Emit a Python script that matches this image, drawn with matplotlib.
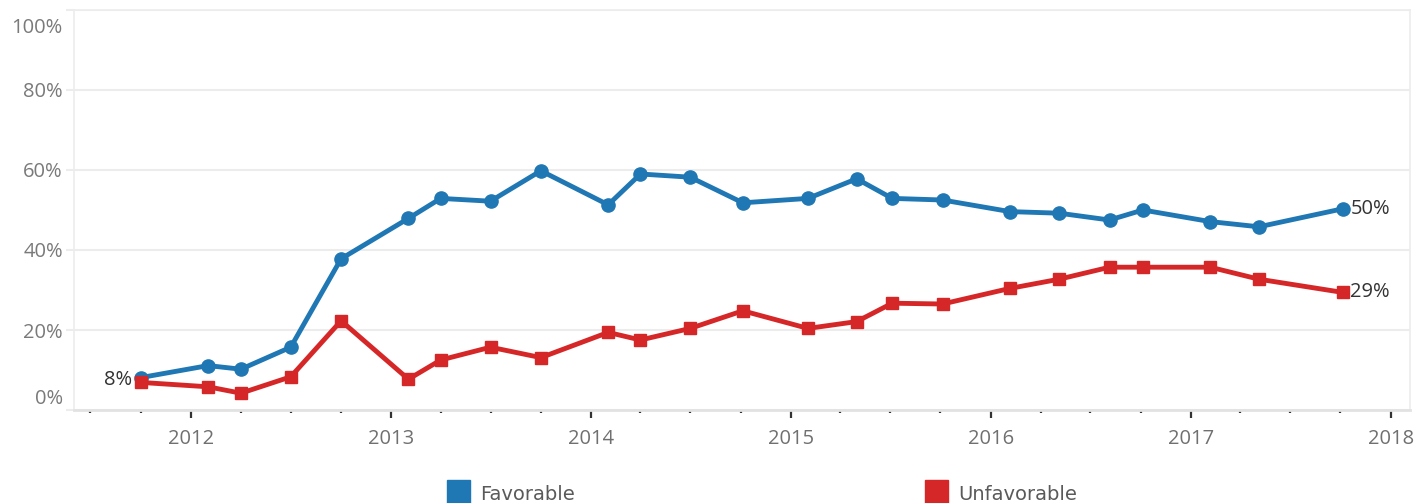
import matplotlib
matplotlib.use("Agg")
import matplotlib.pyplot as plt
import matplotlib.dates as mdates
from matplotlib.patches import Rectangle
from matplotlib.transforms import ScaledTranslation
import pandas as pd

plt.rcParams["font.stretch"] = "normal"

# survey dates and shares (%)
dates = ["2011-10-01", "2012-02-01", "2012-04-01", "2012-07-01", "2012-10-01",
         "2013-02-01", "2013-04-01", "2013-07-01", "2013-10-01", "2014-02-01",
         "2014-04-01", "2014-07-01", "2014-10-05", "2015-02-01", "2015-05-01",
         "2015-07-05", "2015-10-05", "2016-02-05", "2016-05-05", "2016-08-05",
         "2016-10-05", "2017-02-05", "2017-05-05", "2017-10-05"]
favorable = [8.1, 11.1, 10.2, 15.7, 37.8, 47.9, 52.9, 52.2, 59.8, 51.3,
             59.0, 58.2, 51.8, 52.9, 57.8, 52.9, 52.5, 49.6, 49.2, 47.5,
             50.0, 47.1, 45.8, 50.3]
unfavorable = [6.9, 5.8, 4.2, 8.3, 22.3, 7.7, 12.5, 15.7, 13.1, 19.4,
               17.5, 20.4, 24.8, 20.4, 22.1, 26.7, 26.5, 30.4, 32.7, 35.7,
               35.7, 35.7, 32.7, 29.4]
series_names = ["Favorable", "Unfavorable"]
colors = ["#1f77b4", "#d62728"]
yticks = [0, 20, 40, 60, 80, 100]

x = pd.to_datetime(dates)
txt = dict(family="Open Sans", stretch="normal")

fig = plt.figure(figsize=(14.24, 5.03), dpi=100)
ax = fig.add_axes([74/1424, 1 - 410/503, (1410 - 74)/1424, 400/503])

ax.plot(x, favorable, color=colors[0], lw=3.5, marker="o", ms=9.5,
        solid_joinstyle="round", zorder=3)
ax.plot(x, unfavorable, color=colors[1], lw=3.5, marker="s", ms=9.2,
        solid_joinstyle="round", zorder=3)

ax.set_ylim(0, 100)
ax.set_xlim(pd.Timestamp("2011-06-01"), pd.Timestamp("2018-02-05"))

ax.set_yticks(yticks)
ax.set_yticklabels([f"{v}%" for v in yticks], **txt)
ax.yaxis.grid(True, color="#ececec", lw=1.5)
ax.tick_params(axis="y", length=6, width=1.5, color="#ececec", pad=2,
               labelsize=14.5, labelcolor="#7a7a7a")

ax.xaxis.set_major_locator(mdates.YearLocator())
ax.xaxis.set_major_formatter(mdates.DateFormatter("%Y"))
ax.xaxis.set_minor_locator(mdates.MonthLocator(bymonth=(4, 7, 10)))
ax.tick_params(axis="x", which="major", length=6, width=1.6, color="#333333",
               pad=8, labelsize=14.5, labelcolor="#707070")
ax.tick_params(axis="x", which="minor", length=2, width=1.6, color="#333333")

for side in ["top", "left", "right"]:
    ax.spines[side].set_color("#ececec")
    ax.spines[side].set_linewidth(1.2)
ax.spines["bottom"].set_color("#e2e2e2")
ax.spines["bottom"].set_linewidth(2)

fig.canvas.draw()
for lab in ax.get_xticklabels():
    lab.set_fontfamily("Open Sans")
    lab.set_fontstretch("normal")
# nudge the end labels inward like the original
ylabs = ax.get_yticklabels()
ylabs[0].set_transform(ylabs[0].get_transform() + ScaledTranslation(0, 14/100, fig.dpi_scale_trans))
ylabs[-1].set_transform(ylabs[-1].get_transform() + ScaledTranslation(0, -16/100, fig.dpi_scale_trans))

# end labels
ax.annotate(f"{round(favorable[0])}%", (x[0], favorable[0]), xytext=(-6, -2),
            textcoords="offset points", ha="right", va="center", fontsize=14.5,
            color="#333333", **txt)
ax.annotate(f"{round(favorable[-1])}%", (x[-1], favorable[-1]), xytext=(5.5, 0),
            textcoords="offset points", ha="left", va="center", fontsize=14.5,
            color="#333333", **txt)
ax.annotate(f"{round(unfavorable[-1])}%", (x[-1], unfavorable[-1]), xytext=(5.5, 0),
            textcoords="offset points", ha="left", va="center", fontsize=14.5,
            color="#333333", **txt)

# legend
for i, (name, c) in enumerate(zip(series_names, colors)):
    x0 = (447 + i * 478) / 1424
    fig.patches.append(Rectangle((x0, 0), 23/1424, 23/503, transform=fig.transFigure,
                                 color=c, figure=fig))
    fig.text(x0 + 33/1424, 9/503, name, fontsize=14, color="#5a5a5a",
             ha="left", va="center")

fig.savefig("out.png", dpi=100)
